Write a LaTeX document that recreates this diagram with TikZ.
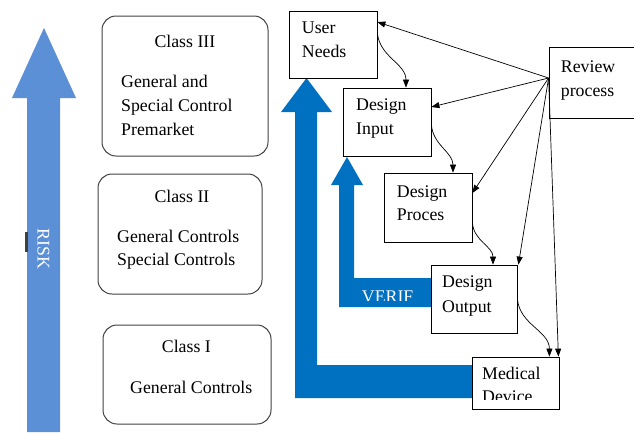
\documentclass[tikz,border=0pt]{standalone}
\usepackage{fontspec}
\setmainfont{Liberation Serif}
\usetikzlibrary{arrows.meta}
\definecolor{riskblue}{HTML}{5B8FD6}
\definecolor{darkblue}{HTML}{0070C0}
\begin{document}
\begin{tikzpicture}[x=1pt,y=-1pt,
  txt/.style={inner sep=0pt,anchor=base west,font=\fontsize{17.8}{24}\selectfont},
  boxr/.style={draw=black,line width=0.8pt,inner sep=0pt,fill=white},
  classbox/.style={draw=black!75,line width=1pt,rounded corners=14pt,inner sep=0pt},
  conn/.style={line width=0.7pt,-{Triangle[length=8pt,width=6pt]}}
]
\useasboundingbox (0,0) rectangle (634,432);

% RISK arrow
\fill[riskblue] (27,432) -- (27,98) -- (12,98) -- (44,28) -- (76,98) -- (60,98) -- (60,432) -- cycle;
\fill[black!75] (25,232) rectangle (27.5,252);
\node[txt,anchor=center,rotate=-90,text=white] (risk) at (43.5,249) {RISK};

% class boxes
\node[classbox,minimum width=166pt,minimum height=140pt] (c3) at (185,86) {};
\node[classbox,minimum width=164pt,minimum height=120pt] (c2) at (180,234) {};
\node[classbox,minimum width=168pt,minimum height=99pt] (c1) at (187,374.5) {};

\node[txt] (c3a) at (154.3,47) {Class III};
\node[txt] (c3b) at (121,87) {General and};
\node[txt] (c3c) at (121,111) {Special Control};
\node[txt] (c3d) at (121,135) {Premarket};

\node[txt] (c2a) at (154.3,202) {Class II};
\node[txt] (c2b) at (117,242) {General Controls};
\node[txt] (c2c) at (117,265.5) {Special Controls};

\node[txt] (c1a) at (161.7,352) {Class I};
\node[txt] (c1b) at (130,393) {General Controls};

% blue L arrows
\fill[darkblue] (472,365) -- (317,365) -- (317,112) -- (332,112) -- (306.5,78) -- (281,112) -- (295,112) -- (295,398) -- (472,398) -- cycle;
\fill[darkblue] (431,278) -- (354,278) -- (354,185) -- (363,185) -- (347,157) -- (331,185) -- (339,185) -- (339,307) -- (431,307) -- cycle;
\begin{scope}
\clip (340,270) rectangle (431,300.5);
\node[txt,text=white] (verif) at (361.7,302) {VERIF};
\end{scope}

% process boxes
\node[boxr,minimum width=88pt,minimum height=67pt] (un) at (333,44.5) {};
\node[boxr,minimum width=88pt,minimum height=68pt] (di) at (387,122) {};
\node[boxr,minimum width=88pt,minimum height=69pt] (dp) at (428,207.5) {};
\node[boxr,minimum width=86pt,minimum height=68pt] (do) at (474,299) {};
\node[boxr,minimum width=87pt,minimum height=52pt] (md) at (515.5,383) {};
\node[boxr,minimum width=90pt,minimum height=71pt] (rv) at (594,82.5) {};

\node[txt] (unA) at (301.7,33.5) {User};
\node[txt] (unB) at (301.7,57) {Needs};
\node[txt] (diA) at (356,110) {Design};
\node[txt] (diB) at (356,134) {Input};
\node[txt] (dpA) at (396.7,197) {Design};
\node[txt] (dpB) at (396.7,220.5) {Proces};
\node[txt] (doA) at (442,287) {Design};
\node[txt] (doB) at (442,312) {Output};
\node[txt] (rvA) at (560.7,72) {Review};
\node[txt] (rvB) at (560.7,96) {process};
\node[txt] (mdA) at (482,379) {Medical};
\begin{scope}
\clip (473,385) rectangle (558,399.5);
\node[txt] (mdB) at (482,402.5) {Device};
\end{scope}

% connectors
\coordinate (hub) at ([yshift=4.5pt]rv.west);
\draw[conn] (hub) -- ([yshift=22.5pt]un.east);
\draw[conn] (hub) -- ([yshift=15pt]di.east);
\draw[conn] (hub) -- ([yshift=14.5pt]dp.east);
\draw[conn] (hub) -- ([xshift=1pt]do.north east);
\draw[conn] (hub) -- ([xshift=-1pt]md.north east);

\draw[conn] ([yshift=11.5pt]un.east) to[out=-85,in=90] ([xshift=19pt]di.north);
\draw[conn] ([yshift=-3pt]di.east) to[out=-85,in=90] ([xshift=25pt]dp.north);
\draw[conn] ([yshift=-15.5pt]dp.east) to[out=-85,in=90] ([xshift=19pt]do.north);
\draw[conn] (do.east) to[out=-85,in=90] ([xshift=-10pt]md.north east);
\end{tikzpicture}
\end{document}
